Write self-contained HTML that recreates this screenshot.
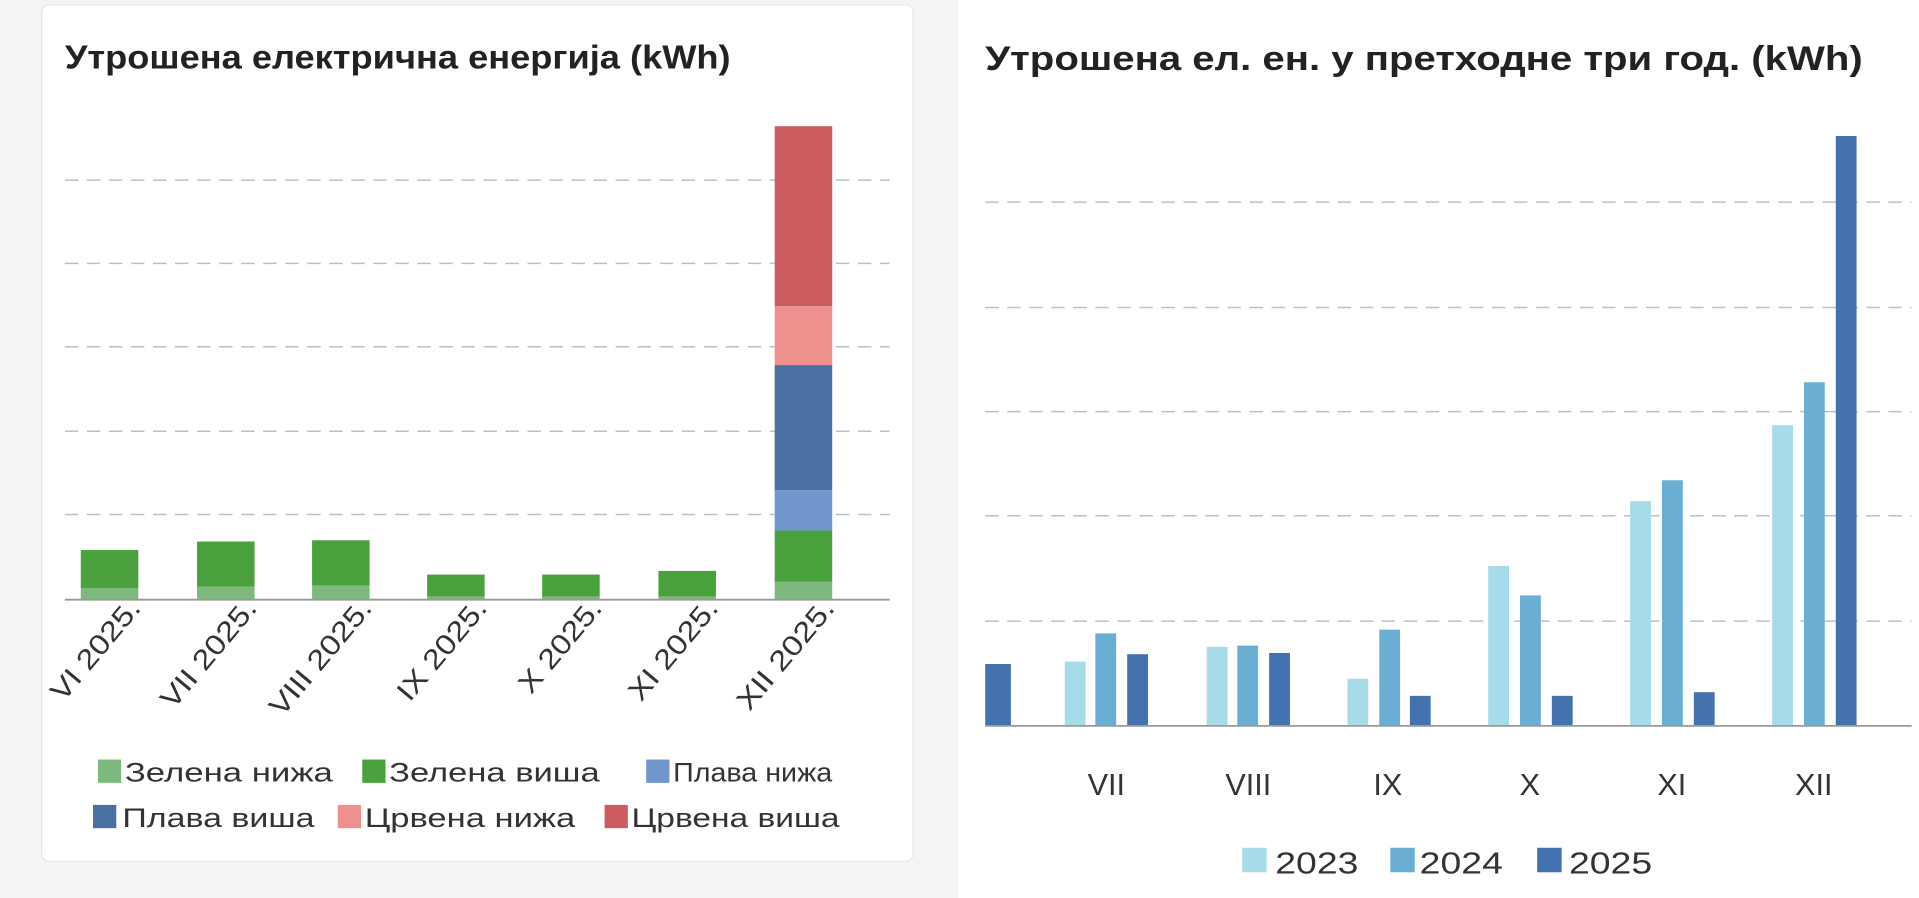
<!DOCTYPE html>
<html><head><meta charset="utf-8"><style>
html,body{margin:0;padding:0;background:#f4f4f4;}
svg{display:block;}
text{font-family:"Liberation Sans","DejaVu Sans",sans-serif;}
</style></head><body>
<svg width="1919" height="898" viewBox="0 0 1568 733" preserveAspectRatio="none">
<rect x="0" y="0" width="1568" height="733" fill="#f4f4f4"/>
<rect x="34" y="4" width="712" height="699" rx="6" fill="#fff" stroke="#e6e6e6"/>
<rect x="783" y="0" width="785" height="733" fill="#fff"/>
<text x="53" y="56" font-size="27" font-weight="bold" fill="#222" textLength="544" lengthAdjust="spacingAndGlyphs">Утрошена електрична енергија (kWh)</text>
<g stroke="#b5c3cc" stroke-width="1.2" stroke-dasharray="11,7">
<line x1="53" y1="147" x2="727" y2="147"/><line x1="53" y1="215" x2="727" y2="215"/><line x1="53" y1="283" x2="727" y2="283"/><line x1="53" y1="352" x2="727" y2="352"/><line x1="53" y1="420" x2="727" y2="420"/>
</g>
<g>
<rect x="66" y="449" width="47" height="31" fill="#4ba03e"/><rect x="66" y="480" width="47" height="9" fill="#7db87d"/>
<rect x="161" y="442" width="47" height="37" fill="#4ba03e"/><rect x="161" y="479" width="47" height="10" fill="#7db87d"/>
<rect x="255" y="441" width="47" height="37" fill="#4ba03e"/><rect x="255" y="478" width="47" height="11" fill="#7db87d"/>
<rect x="349" y="469" width="47" height="18" fill="#4ba03e"/><rect x="349" y="487" width="47" height="2" fill="#7db87d"/>
<rect x="443" y="469" width="47" height="18" fill="#4ba03e"/><rect x="443" y="487" width="47" height="2" fill="#7db87d"/>
<rect x="538" y="466" width="47" height="21" fill="#4ba03e"/><rect x="538" y="487" width="47" height="2" fill="#7db87d"/>
<rect x="633" y="103" width="47" height="147" fill="#cd5c60"/>
<rect x="633" y="250" width="47" height="48" fill="#ee918e"/>
<rect x="633" y="298" width="47" height="102" fill="#4a6fa1"/>
<rect x="633" y="400" width="47" height="33" fill="#7096cc"/>
<rect x="633" y="433" width="47" height="42" fill="#4ba03e"/>
<rect x="633" y="475" width="47" height="14" fill="#7db87d"/>
</g>
<line x1="53" y1="489.5" x2="727" y2="489.5" stroke="#999" stroke-width="1.5"/>
<g font-size="23" fill="#333" text-anchor="end" lengthAdjust="spacingAndGlyphs">
<text transform="translate(116,497) rotate(-50)" textLength="100" lengthAdjust="spacingAndGlyphs">VI 2025.</text>
<text transform="translate(211,497) rotate(-50)" textLength="108" lengthAdjust="spacingAndGlyphs">VII 2025.</text>
<text transform="translate(305,497) rotate(-50)" textLength="116" lengthAdjust="spacingAndGlyphs">VIII 2025.</text>
<text transform="translate(399,497) rotate(-50)" textLength="100" lengthAdjust="spacingAndGlyphs">IX 2025.</text>
<text transform="translate(493,497) rotate(-50)" textLength="92" lengthAdjust="spacingAndGlyphs">X 2025.</text>
<text transform="translate(588,497) rotate(-50)" textLength="100" lengthAdjust="spacingAndGlyphs">XI 2025.</text>
<text transform="translate(683,497) rotate(-50)" textLength="110" lengthAdjust="spacingAndGlyphs">XII 2025.</text>
</g>
<g font-size="22" fill="#333">
<rect x="80" y="620" width="19" height="19" fill="#7db87d"/><text x="102" y="638" textLength="170" lengthAdjust="spacingAndGlyphs">Зелена нижа</text>
<rect x="296" y="620" width="19" height="19" fill="#4ba03e"/><text x="318" y="638" textLength="172" lengthAdjust="spacingAndGlyphs">Зелена виша</text>
<rect x="528" y="620" width="19" height="19" fill="#7096cc"/><text x="550" y="638" textLength="130" lengthAdjust="spacingAndGlyphs">Плава нижа</text>
<rect x="76" y="657" width="19" height="19" fill="#4a6fa1"/><text x="100" y="675" textLength="157" lengthAdjust="spacingAndGlyphs">Плава виша</text>
<rect x="276" y="657" width="19" height="19" fill="#ee918e"/><text x="298" y="675" textLength="172" lengthAdjust="spacingAndGlyphs">Црвена нижа</text>
<rect x="494" y="657" width="19" height="19" fill="#cd5c60"/><text x="516" y="675" textLength="170" lengthAdjust="spacingAndGlyphs">Црвена виша</text>
</g>

<text x="805" y="57" font-size="28" font-weight="bold" fill="#222" textLength="717" lengthAdjust="spacingAndGlyphs">Утрошена ел. ен. у претходне три год. (kWh)</text>
<g stroke="#b5c3cc" stroke-width="1.2" stroke-dasharray="11,7">
<line x1="805" y1="165" x2="1562" y2="165"/><line x1="805" y1="251" x2="1562" y2="251"/><line x1="805" y1="336" x2="1562" y2="336"/><line x1="805" y1="421" x2="1562" y2="421"/><line x1="805" y1="507" x2="1562" y2="507"/>
</g>
<g>
<rect x="805" y="542" width="21" height="50" fill="#4472ae"/>
<rect x="870" y="540" width="17" height="52" fill="#a8dbe8"/><rect x="895" y="517" width="17" height="75" fill="#6aafd3"/><rect x="921" y="534" width="17" height="58" fill="#4472ae"/>
<rect x="986" y="528" width="17" height="64" fill="#a8dbe8"/><rect x="1011" y="527" width="17" height="65" fill="#6aafd3"/><rect x="1037" y="533" width="17" height="59" fill="#4472ae"/>
<rect x="1101" y="554" width="17" height="38" fill="#a8dbe8"/><rect x="1127" y="514" width="17" height="78" fill="#6aafd3"/><rect x="1152" y="568" width="17" height="24" fill="#4472ae"/>
<rect x="1216" y="462" width="17" height="130" fill="#a8dbe8"/><rect x="1242" y="486" width="17" height="106" fill="#6aafd3"/><rect x="1268" y="568" width="17" height="24" fill="#4472ae"/>
<rect x="1332" y="409" width="17" height="183" fill="#a8dbe8"/><rect x="1358" y="392" width="17" height="200" fill="#6aafd3"/><rect x="1384" y="565" width="17" height="27" fill="#4472ae"/>
<rect x="1448" y="347" width="17" height="245" fill="#a8dbe8"/><rect x="1474" y="312" width="17" height="280" fill="#6aafd3"/><rect x="1500" y="111" width="17" height="481" fill="#4472ae"/>
</g>
<line x1="805" y1="592.5" x2="1562" y2="592.5" stroke="#999" stroke-width="1.5"/>
<g font-size="25" fill="#333" text-anchor="middle">
<text x="904" y="649">VII</text><text x="1020" y="649">VIII</text><text x="1134" y="649">IX</text><text x="1250" y="649">X</text><text x="1366" y="649">XI</text><text x="1482" y="649">XII</text>
</g>
<g font-size="25" fill="#333">
<rect x="1015" y="692" width="20" height="20" fill="#a8dbe8"/><text x="1042" y="713" textLength="68" lengthAdjust="spacingAndGlyphs">2023</text>
<rect x="1136" y="692" width="20" height="20" fill="#6aafd3"/><text x="1160" y="713" textLength="68" lengthAdjust="spacingAndGlyphs">2024</text>
<rect x="1256" y="692" width="20" height="20" fill="#4472ae"/><text x="1282" y="713" textLength="68" lengthAdjust="spacingAndGlyphs">2025</text>
</g>
</svg>
</body></html>
